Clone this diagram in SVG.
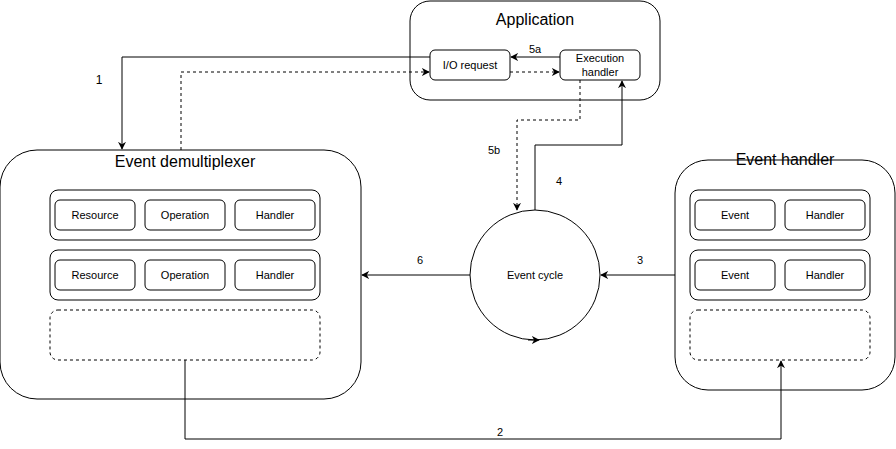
<svg xmlns="http://www.w3.org/2000/svg" width="896" height="449" viewBox="0 0 896 449">
<style>
.box{fill:#fff;stroke:#000;stroke-width:1}
.dash{fill:#fff;stroke:#000;stroke-width:1;stroke-dasharray:3 3}
.t{font-family:"Liberation Sans",Arial,sans-serif;font-size:11px;fill:#000;text-anchor:middle;dominant-baseline:central}
.title{font-family:"Liberation Sans",Arial,sans-serif;font-size:16px;fill:#000;text-anchor:middle;dominant-baseline:central}
.c{fill:none;stroke:#000;stroke-width:1}
.cd{fill:none;stroke:#000;stroke-width:1;stroke-dasharray:3 3}
</style>
<defs>
<marker id="a" viewBox="0 0 10 10" refX="9" refY="5" markerWidth="8" markerHeight="8" markerUnits="userSpaceOnUse" orient="auto">
<path d="M0,0 L10,5 L0,10 L3,5 z" fill="#000"/>
</marker>
</defs>
<g id="application">
<rect class="box" x="410" y="1" width="250" height="99" rx="20"/>
<text class="title" x="535" y="19">Application</text>
</g>
<g id="io-request">
<rect class="box" x="430" y="50" width="80" height="30" rx="5"/>
<text class="t" x="470" y="65">I/O request</text>
</g>
<g id="execution-handler">
<rect class="box" x="560" y="50" width="80" height="30" rx="5"/>
<text class="t" x="600" y="58">Execution</text>
<text class="t" x="600" y="72">handler</text>
</g>
<g id="event-demultiplexer">
<rect class="box" x="0" y="150" width="361" height="249" rx="37"/>
<text class="title" x="185" y="161">Event demultiplexer</text>
<rect class="box" x="50" y="190" width="270" height="50" rx="8"/>
<rect class="box" x="55" y="200" width="80" height="30" rx="5"/>
<text class="t" x="95" y="215">Resource</text>
<rect class="box" x="145" y="200" width="80" height="30" rx="5"/>
<text class="t" x="185" y="215">Operation</text>
<rect class="box" x="235" y="200" width="80" height="30" rx="5"/>
<text class="t" x="275" y="215">Handler</text>
<rect class="box" x="50" y="250" width="270" height="50" rx="8"/>
<rect class="box" x="55" y="260" width="80" height="30" rx="5"/>
<text class="t" x="95" y="275">Resource</text>
<rect class="box" x="145" y="260" width="80" height="30" rx="5"/>
<text class="t" x="185" y="275">Operation</text>
<rect class="box" x="235" y="260" width="80" height="30" rx="5"/>
<text class="t" x="275" y="275">Handler</text>
<rect class="dash" x="50" y="310" width="270" height="50" rx="8"/>
</g>
<g id="event-handler">
<rect class="box" x="675" y="160" width="220" height="230" rx="33"/>
<text class="title" x="785" y="159">Event handler</text>
<rect class="box" x="690" y="190" width="180" height="50" rx="8"/>
<rect class="box" x="695" y="200" width="80" height="30" rx="5"/>
<text class="t" x="735" y="215">Event</text>
<rect class="box" x="785" y="200" width="80" height="30" rx="5"/>
<text class="t" x="825" y="215">Handler</text>
<rect class="box" x="690" y="250" width="180" height="50" rx="8"/>
<rect class="box" x="695" y="260" width="80" height="30" rx="5"/>
<text class="t" x="735" y="275">Event</text>
<rect class="box" x="785" y="260" width="80" height="30" rx="5"/>
<text class="t" x="825" y="275">Handler</text>
<rect class="dash" x="690" y="310" width="180" height="50" rx="8"/>
</g>
<g id="event-cycle">
<circle class="box" cx="535" cy="275" r="65"/>
<text class="t" x="535" y="275">Event cycle</text>
<path class="c" d="M528,340 L539,340" marker-end="url(#a)"/>
</g>
<g id="connectors">
<path class="c" d="M430,57 L122,57 L122,149" marker-end="url(#a)"/>
<text class="t" x="99" y="80" style="font-size:12px">1</text>
<path class="cd" d="M181,150 L181,72 L429,72" marker-end="url(#a)"/>
<path class="c" d="M560,57 L511,57" marker-end="url(#a)"/>
<text class="t" x="535" y="49">5a</text>
<path class="cd" d="M510,72 L559,72" marker-end="url(#a)"/>
<path class="cd" d="M580,80 L580,120 L517,120 L517,210" marker-end="url(#a)"/>
<text class="t" x="494" y="150">5b</text>
<path class="c" d="M535,210 L535,145 L622,145 L622,81" marker-end="url(#a)"/>
<text class="t" x="559" y="181">4</text>
<path class="c" d="M675,275 L601,275" marker-end="url(#a)"/>
<text class="t" x="640" y="260">3</text>
<path class="c" d="M470,275 L362,275" marker-end="url(#a)"/>
<text class="t" x="420" y="260">6</text>
<path class="c" d="M185,360 L185,439 L781,439 L781,361" marker-end="url(#a)"/>
<text class="t" x="500" y="432">2</text>
</g>
</svg>
